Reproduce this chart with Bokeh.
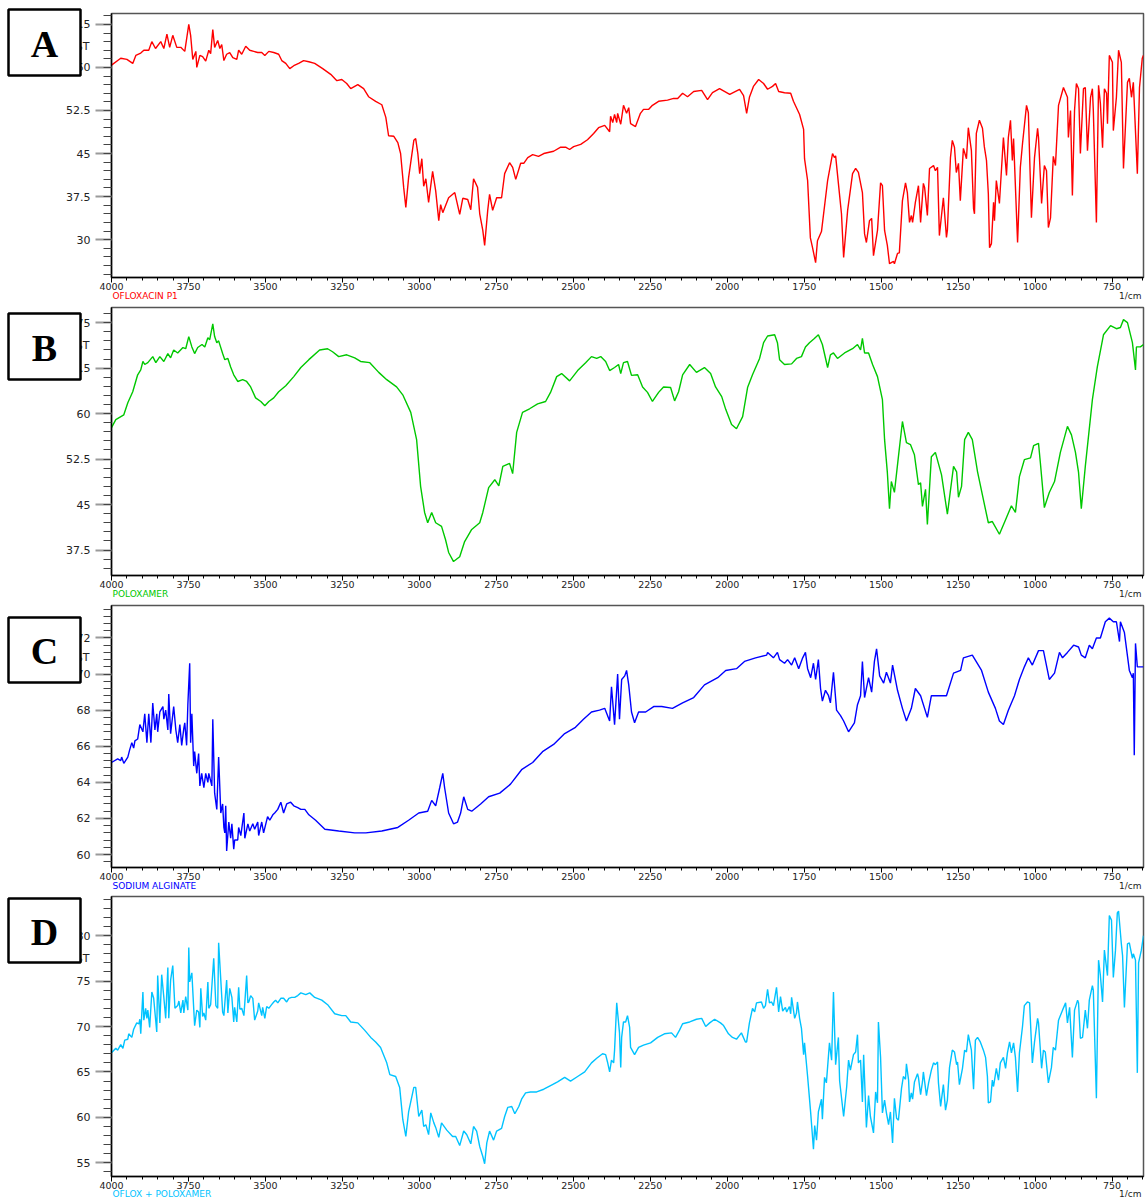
import numpy as np
from bokeh.plotting import figure
from bokeh.models import Range1d, FixedTicker, NumeralTickFormatter, GridBox
from bokeh.layouts import column
from bokeh.core.properties import value
from bokeh.embed import file_html
from bokeh.resources import INLINE

# ---------------- data (wavenumber 1/cm, %T) ----------------
WN_A = [4000,3970,3950,3931,3921,3905,3895,3879,3869,3857,3840,3830,3820,3811,3801,3788,3775,3762,3749,3743,
        3736,3726,3723,3713,3704,3694,3684,3678,3671,3665,3655,3648,3642,3635,3626,3616,3606,3593,3587,3577,
        3564,3551,3538,3525,3512,3502,3489,3473,3457,3447,3434,3421,3408,3392,3376,3359,3340,3314,3288,3268,
        3252,3236,3223,3200,3181,3165,3142,3122,3109,3100,3083,3070,3061,3051,3044,3035,3018,3012,3005,2999,
        2992,2986,2979,2970,2957,2947,2937,2931,2924,2905,2885,2869,2859,2843,2833,2824,2811,2804,2794,2788,
        2778,2772,2762,2749,2733,2723,2707,2697,2687,2671,2661,2648,2632,2613,2596,2564,2541,2525,2512,2499,
        2476,2454,2434,2418,2398,2382,2379,2372,2366,2359,2356,2346,2337,2327,2320,2314,2298,2282,2272,2255,
        2243,2223,2194,2174,2161,2145,2129,2109,2083,2064,2048,2025,1992,1960,1947,1937,1928,1915,1898,1882,
        1869,1853,1843,1833,1814,1794,1785,1765,1752,1749,1739,1730,1723,1713,1707,1694,1674,1658,1652,1648,
        1639,1629,1622,1609,1593,1583,1574,1561,1554,1548,1538,1531,1525,1512,1502,1496,1489,1480,1473,1460,
        1457,1447,1441,1431,1421,1415,1408,1402,1398,1389,1379,1372,1363,1359,1350,1343,1330,1324,1317,1311,
        1298,1288,1285,1275,1269,1262,1256,1249,1243,1233,1223,1217,1207,1200,1197,1191,1181,1171,1165,1158,
        1152,1148,1142,1135,1132,1126,1116,1103,1093,1087,1080,1074,1070,1057,1048,1041,1028,1022,1012,1002,
        992,989,979,970,963,957,950,941,934,924,908,895,892,885,879,872,866,859,853,843,
        837,830,820,814,811,801,794,788,781,775,768,765,759,749,746,736,729,720,713,700,
        694,687,681,668,661,652,648]
T_A = [60.4,61.6,61.4,60.7,62.1,62.5,63.0,63.0,64.5,63.3,64.5,63.3,65.8,63.5,65.6,63.5,63.5,62.8,67.5,65.6,
       61.4,62.8,60.0,62.1,61.9,61.1,63.0,62.4,66.6,63.5,64.7,63.3,64.0,61.2,62.3,62.6,61.7,61.4,63.0,62.3,
       63.7,63.0,62.8,62.6,62.6,62.1,62.8,62.6,62.3,61.2,60.7,59.8,60.3,60.7,61.2,61.0,60.7,59.8,58.8,57.7,
       57.9,57.2,56.3,57.0,56.3,54.9,54.1,53.5,51.3,48.1,48.0,46.9,45.0,39.1,35.6,40.8,47.3,47.6,45.0,41.5,
       44.1,39.3,40.6,36.5,41.9,38.5,33.3,36.1,34.7,37.3,38.2,34.4,37.2,37.0,35.2,40.6,39.1,34.5,31.6,29.0,
       35.1,37.9,35.1,37.3,37.3,41.5,43.4,42.6,40.5,43.3,43.3,44.3,44.8,44.5,45.0,45.4,46.1,46.1,45.7,46.2,
       46.6,47.4,48.5,49.5,49.9,48.8,51.5,50.4,51.8,50.4,52.0,50.1,53.4,52.0,53.0,50.2,49.7,52.0,52.7,52.7,
       53.4,54.1,54.3,54.6,54.6,55.5,54.9,55.8,56.0,54.4,55.6,56.3,55.3,56.2,55.1,52.0,54.8,56.7,57.9,57.2,
       56.2,56.7,57.2,55.8,55.6,55.5,54.1,51.8,49.2,44.1,40.3,30.3,28.6,26.0,29.8,31.4,40.3,45.0,44.3,44.6,
       39.8,34.5,26.9,35.1,41.5,42.4,41.7,38.2,31.0,29.5,33.3,33.7,27.2,31.6,39.9,39.4,31.6,29.0,25.8,26.2,
       25.8,27.6,27.7,36.8,39.9,38.2,33.0,34.2,33.0,36.5,39.4,33.0,39.8,39.1,34.2,42.4,42.9,42.0,42.6,30.7,
       37.3,30.4,31.6,44.3,47.3,46.1,41.7,43.3,36.8,45.9,44.1,49.5,45.5,35.4,34.5,48.5,50.8,49.4,46.2,43.8,
       38.0,28.6,29.3,36.5,33.3,40.3,36.3,47.8,41.2,47.8,50.8,43.8,47.6,29.5,42.6,46.7,53.4,52.1,33.8,44.3,
       49.4,47.8,36.3,42.9,42.0,32.1,33.8,44.5,42.9,53.4,56.5,54.8,47.8,52.5,37.7,52.5,57.2,56.3,45.0,56.3,
       56.5,45.5,54.8,56.3,52.5,33.0,56.9,53.7,46.0,56.3,55.5,50.2,62.1,60.9,49.0,54.8,63.0,60.9,42.4,57.4,
       58.1,54.8,57.4,41.5,56.5,61.6,62.1]

WN_B = [4000,3986,3960,3947,3931,3915,3905,3898,3892,3882,3866,3856,3843,3830,3817,3808,3798,3785,3768,3759,
        3749,3739,3730,3720,3706,3697,3687,3681,3671,3665,3658,3652,3639,3632,3622,3613,3603,3590,3574,3561,
        3548,3532,3515,3502,3489,3473,3457,3434,3408,3385,3359,3324,3298,3282,3262,3236,3210,3191,3161,3132,
        3106,3074,3054,3028,3009,2996,2983,2973,2960,2947,2928,2915,2905,2889,2869,2853,2830,2804,2794,2775,
        2755,2742,2729,2707,2697,2684,2665,2642,2616,2590,2574,2554,2538,2512,2486,2460,2441,2424,2411,2395,
        2382,2366,2353,2346,2337,2324,2311,2291,2275,2259,2243,2223,2207,2184,2171,2158,2145,2122,2100,2074,
        2054,2038,2018,2005,1986,1970,1950,1934,1918,1895,1882,1869,1846,1837,1830,1814,1791,1775,1759,1746,
        1733,1717,1704,1691,1674,1665,1655,1642,1619,1593,1577,1567,1561,1554,1541,1528,1512,1496,1489,1480,
        1473,1467,1457,1444,1431,1418,1405,1392,1379,1372,1366,1356,1350,1337,1324,1304,1285,1265,1255,1249,
        1239,1229,1217,1204,1187,1168,1152,1139,1116,1096,1077,1064,1051,1035,1015,1005,989,983,970,954,
        937,918,895,882,869,859,850,837,814,798,778,755,736,723,713,700,684,674,671,658,648]
T_B = [57.7,59.0,59.8,61.8,63.6,66.4,67.2,68.6,68.1,68.4,69.4,68.4,69.4,68.6,69.9,69.2,70.5,70.0,70.9,70.7,
       72.7,71.0,69.9,70.9,71.4,71.0,72.5,72.2,74.8,72.7,71.7,72.0,69.9,68.9,69.1,67.7,66.4,65.3,65.6,65.3,
       64.4,62.6,62.0,61.3,62.0,62.6,63.6,64.6,66.1,67.6,68.9,70.5,70.7,70.2,69.4,69.7,69.2,68.6,68.4,66.8,
       65.6,64.4,63.1,60.2,55.7,48.0,43.7,42.0,43.7,42.0,41.4,39.2,37.1,35.6,36.4,38.9,40.9,42.0,43.7,47.8,
       49.1,48.1,51.3,51.8,50.1,56.9,60.2,60.8,61.6,62.0,63.5,66.1,66.6,65.4,67.1,68.4,69.4,69.1,69.4,68.6,
       67.1,67.6,68.1,66.6,68.4,68.6,66.3,66.4,64.4,63.5,62.0,63.5,64.4,64.3,62.1,63.6,66.4,68.1,66.8,67.6,
       66.6,64.4,62.8,60.7,58.2,57.5,59.5,64.3,66.4,69.1,71.7,72.8,73.0,71.7,68.9,68.1,68.2,69.1,69.4,71.0,
       71.7,72.4,73.0,71.4,67.6,69.7,70.0,69.1,70.0,70.7,71.4,70.5,72.4,70.0,70.0,68.1,66.1,62.3,55.7,50.3,
       44.3,48.8,47.0,52.9,58.7,55.2,54.9,53.2,48.3,48.6,44.7,47.5,41.7,52.9,53.6,49.9,43.4,51.3,50.4,46.2,
       48.0,55.7,56.9,55.7,50.4,45.8,42.0,42.2,40.1,42.5,44.8,43.7,49.6,52.4,52.7,54.7,55.1,51.9,44.5,47.0,
       48.8,53.6,57.9,56.5,53.6,50.3,44.3,51.3,62.3,67.7,73.0,74.5,74.0,74.2,75.5,75.0,71.7,67.2,71.0,71.0,71.4]

WN_C = [4000,3980,3970,3967,3960,3947,3941,3934,3928,3924,3915,3908,3898,3892,3885,3879,3872,3866,3859,3853,
        3850,3843,3833,3830,3824,3817,3814,3808,3798,3791,3785,3778,3772,3765,3762,3756,3752,3746,3743,3739,
        3733,3730,3723,3717,3713,3707,3700,3694,3687,3684,3674,3671,3665,3658,3652,3645,3639,3635,3632,3629,
        3626,3619,3613,3609,3603,3600,3590,3587,3580,3570,3567,3557,3551,3541,3535,3525,3522,3512,3506,3493,
        3486,3476,3470,3460,3450,3441,3431,3418,3408,3395,3385,3372,3359,3337,3307,3262,3210,3174,3122,3070,
        3035,3002,2973,2960,2947,2934,2924,2918,2905,2889,2876,2866,2856,2843,2830,2801,2775,2739,2704,2668,
        2632,2600,2564,2528,2493,2467,2441,2415,2398,2382,2376,2366,2356,2350,2343,2333,2327,2320,2311,2301,
        2288,2265,2239,2213,2178,2145,2109,2074,2031,2005,1970,1944,1908,1872,1869,1850,1837,1830,1814,1804,
        1791,1781,1768,1755,1746,1739,1729,1720,1713,1704,1697,1691,1681,1671,1665,1655,1645,1632,1622,1606,
        1587,1577,1567,1561,1554,1541,1531,1522,1515,1505,1492,1483,1470,1463,1447,1431,1418,1402,1389,1372,
        1350,1337,1304,1288,1265,1242,1233,1204,1174,1152,1129,1116,1103,1087,1067,1051,1035,1022,1009,989,
        973,954,937,921,911,895,875,859,850,837,824,814,801,788,772,759,746,736,726,723,
        710,694,684,681,678,674,668,658,648]
T_C = [65.1,65.3,65.2,65.4,65.05,65.4,65.8,66.2,65.9,66.3,66.4,67.2,66.8,67.8,66.2,67.8,66.2,68.4,66.9,67.8,
       66.8,67.9,68.2,67.5,68.0,66.9,68.9,66.7,68.2,66.9,66.2,67.2,66.05,67.0,67.3,66.05,68.3,70.6,66.2,67.8,
       64.9,65.7,64.5,65.6,63.8,64.5,63.7,64.5,64.0,64.5,63.8,67.5,63.4,62.5,65.4,62.3,62.8,61.5,61.2,62.7,
       60.2,61.8,60.9,61.7,60.3,60.8,60.8,61.5,61.05,62.3,60.9,61.7,61.3,61.7,61.4,61.8,61.05,61.8,61.2,62.1,
       61.9,62.2,62.3,62.5,62.9,62.3,62.8,62.9,62.7,62.6,62.5,62.5,62.2,61.9,61.4,61.3,61.2,61.2,61.3,61.5,
       61.9,62.3,62.4,63.0,62.7,63.7,64.5,63.7,62.3,61.7,61.8,62.3,63.2,62.5,62.4,62.8,63.2,63.4,63.9,64.7,
       65.1,65.7,66.1,66.7,67.05,67.5,67.9,68.0,68.1,67.4,69.3,67.2,70.0,67.5,69.7,69.9,70.2,69.4,67.9,67.3,
       67.9,67.9,68.2,68.2,68.1,68.4,68.7,69.4,69.8,70.2,70.3,70.7,70.9,71.05,71.2,70.9,71.2,70.8,70.6,70.8,
       70.5,70.9,70.3,70.9,71.2,70.3,69.8,70.6,69.7,70.8,69.2,68.5,69.1,68.8,68.4,70.1,68.0,67.7,67.4,66.8,
       67.3,68.3,68.8,70.7,68.7,69.8,69.0,70.7,71.4,69.9,69.5,70.1,69.5,70.5,69.1,68.1,67.4,68.1,69.2,68.8,
       67.6,68.8,68.8,68.8,70.05,70.2,70.9,71.05,70.2,69.0,68.1,67.4,67.2,68.0,68.8,69.7,70.4,70.9,70.5,71.3,
       71.3,69.7,70.05,71.2,70.9,71.2,71.6,71.5,71.05,70.9,71.6,71.4,72.0,72.0,72.9,73.1,72.9,72.9,71.8,72.9,
       72.3,70.2,69.8,70.05,65.5,71.7,70.4,70.4,70.4]

WN_D = [4000,3986,3980,3970,3963,3957,3947,3944,3934,3928,3918,3911,3908,3905,3898,3895,3889,3885,3882,3876,
        3869,3863,3853,3850,3843,3837,3830,3824,3817,3814,3808,3801,3794,3785,3781,3775,3768,3765,3759,3752,
        3749,3746,3739,3733,3730,3723,3717,3713,3710,3704,3700,3694,3687,3684,3678,3668,3661,3655,3652,3645,
        3639,3635,3626,3622,3616,3609,3603,3600,3593,3587,3583,3577,3570,3567,3561,3557,3554,3548,3541,3535,
        3525,3522,3512,3509,3502,3496,3489,3480,3473,3467,3460,3450,3441,3431,3424,3415,3405,3395,3385,3369,
        3356,3340,3317,3298,3275,3252,3239,3223,3200,3178,3158,3142,3126,3106,3096,3077,3064,3054,3044,3035,
        3018,3012,3002,2992,2986,2979,2970,2963,2953,2947,2937,2928,2911,2892,2882,2869,2856,2846,2833,2824,
        2814,2804,2794,2788,2781,2772,2759,2749,2733,2723,2713,2700,2690,2677,2668,2655,2639,2619,2596,2574,
        2551,2528,2509,2486,2463,2441,2424,2405,2395,2389,2382,2376,2369,2366,2359,2350,2346,2343,2337,2330,
        2324,2317,2314,2301,2288,2272,2249,2226,2204,2181,2168,2155,2145,2122,2100,2083,2070,2057,2041,2022,
        2012,1996,1983,1970,1954,1941,1937,1928,1918,1911,1905,1889,1882,1876,1869,1863,1856,1850,1840,1833,
        1827,1820,1811,1807,1798,1794,1791,1781,1775,1772,1765,1759,1752,1749,1739,1729,1720,1716,1710,1704,
        1694,1691,1684,1678,1668,1661,1655,1648,1639,1635,1622,1612,1606,1600,1590,1583,1577,1574,1567,1561,
        1557,1548,1541,1535,1525,1518,1512,1509,1502,1496,1489,1483,1476,1470,1463,1457,1450,1444,1434,1428,
        1421,1418,1411,1408,1402,1398,1392,1382,1379,1372,1366,1363,1353,1346,1337,1330,1324,1317,1314,1307,
        1298,1291,1285,1278,1269,1262,1255,1252,1246,1236,1229,1223,1217,1207,1200,1194,1187,1178,1168,1161,
        1155,1152,1145,1139,1135,1126,1119,1113,1103,1096,1090,1083,1077,1070,1064,1057,1051,1041,1035,1025,
        1018,1009,1002,992,989,979,973,967,957,947,941,934,924,911,901,895,888,879,872,862,
        859,853,846,837,830,824,814,811,801,794,788,781,775,765,759,752,746,739,733,729,
        720,716,710,700,694,684,681,674,668,664,655,648]
T_D = [67.1,67.6,67.4,68.0,67.6,68.5,68.6,69.2,68.8,69.7,70.4,70.3,70.8,69.2,73.8,70.7,72.0,70.9,71.8,69.9,
       73.8,73.1,69.4,75.6,70.4,75.7,73.2,70.9,76.5,70.9,75.1,76.7,72.0,72.3,72.8,71.5,72.9,71.5,73.3,71.8,
       78.7,74.9,75.9,72.0,70.1,71.8,71.6,69.9,74.2,71.1,71.5,70.7,74.9,72.0,72.4,77.5,72.3,72.0,79.2,75.1,
       71.6,71.2,75.1,71.5,74.2,73.2,70.5,72.1,70.5,74.3,71.9,72.0,71.2,72.6,75.6,72.6,72.7,73.4,73.1,70.7,
       71.7,72.6,71.2,72.1,70.9,72.2,72.0,72.4,72.7,72.9,72.6,73.1,73.1,72.7,73.1,73.2,73.2,73.4,73.7,73.5,
       73.7,73.2,72.9,72.4,71.4,71.2,71.2,70.5,70.4,69.6,68.8,68.3,67.7,66.0,64.7,64.5,63.3,59.8,57.9,60.6,
       63.3,63.3,60.1,60.8,59.0,59.2,58.1,60.5,59.4,58.9,57.8,59.4,58.6,57.9,57.9,56.9,58.5,58.1,57.1,59.0,
       58.5,56.8,55.7,54.9,57.2,58.5,57.5,58.5,58.8,60.1,61.1,61.2,60.4,61.2,62.0,62.7,62.8,62.8,63.1,63.5,
       63.9,64.4,64.0,64.5,65.0,66.0,66.5,67.0,66.9,66.1,65.0,66.3,66.0,67.4,72.6,69.3,65.5,68.8,70.5,70.5,
       71.2,69.9,67.7,66.9,67.7,67.96,68.2,68.8,69.2,69.3,68.8,69.6,70.3,70.5,70.8,70.9,70.0,70.4,70.8,70.4,
       70.1,69.2,68.8,68.6,69.3,68.3,68.3,70.4,72.0,71.6,72.6,72.7,72.0,72.3,74.1,72.6,72.7,72.3,74.3,71.6,
       73.3,71.7,72.1,71.6,72.2,71.4,73.2,70.9,71.5,72.7,70.9,69.8,66.9,68.2,64.5,60.5,56.5,59.1,57.5,60.6,
       62.0,59.8,64.4,63.8,68.2,66.3,73.8,65.8,68.8,64.0,60.1,63.4,66.3,65.2,66.9,67.2,69.1,66.0,66.3,61.7,
       66.9,58.9,62.4,60.1,58.3,62.8,61.6,70.5,66.6,60.5,61.9,60.5,59.2,60.6,57.2,62.1,59.9,59.7,63.2,64.5,
       64.2,65.9,64.1,61.7,62.7,62.0,63.9,64.8,64.4,62.5,63.9,65.0,62.4,63.8,65.2,66.0,65.8,66.1,63.8,61.2,
       63.6,60.8,61.9,65.5,67.4,67.2,65.8,66.1,63.6,65.4,67.4,67.2,69.1,67.4,63.1,68.5,68.8,68.3,67.4,66.6,
       64.5,61.6,61.7,64.1,63.4,65.4,64.1,66.0,66.6,65.4,67.1,68.3,67.1,68.2,66.6,62.8,67.1,70.0,72.3,72.7,
       72.6,66.0,68.3,70.9,70.4,65.4,67.4,67.2,63.8,65.5,67.7,67.4,70.7,71.8,72.6,70.4,72.1,66.6,71.8,72.9,
       72.6,68.7,68.8,71.8,69.8,72.9,74.5,74.0,62.1,77.3,75.6,72.7,78.4,75.6,82.2,81.7,75.4,78.4,82.5,82.7,
       79.1,77.8,72.1,79.1,79.2,77.5,78.0,77.3,64.9,77.0,78.4,80.0]

SERIES_NAMES = ["OFLOXACIN P1", "POLOXAMER", "SODIUM ALGINATE", "OFLOX + POLOXAMER"]
PANEL_LETTERS = ["A", "B", "C", "D"]
X_MAJOR = [4000, 3750, 3500, 3250, 3000, 2750, 2500, 2250, 2000, 1750, 1500, 1250, 1000, 750]
Y_MAJOR_A = [30, 37.5, 45, 52.5, 60, 67.5]
Y_MAJOR_B = [37.5, 45, 52.5, 60, 67.5, 75]
Y_MAJOR_C = [60, 62, 64, 66, 68, 70, 72]
Y_MAJOR_D = [55, 60, 65, 70, 75, 80]

# ---------------- styling / layout ----------------
X_LEFT, X_RIGHT = 4000, 648
W = 1146
BL, BR = 111, 3
TICK_FONT = "DejaVu Sans"

panels = [
    # wn, t, color, y-range, majors, minor step, border top, frame height, border bottom
    (WN_A, T_A, "#ff0000", (23.4, 69.4), Y_MAJOR_A, 1.5, 13, 264, 25),
    (WN_B, T_B, "#00c800", (33.3, 77.5), Y_MAJOR_B, 1.5, 5, 268, 25),
    (WN_C, T_C, "#0000ff", (59.28, 73.8), Y_MAJOR_C, 0.4, 5, 262, 24),
    (WN_D, T_D, "#00c3ff", (53.5, 84.3), Y_MAJOR_D, 1.0, 5, 280, 21),
]

figs = []
frame_bottoms = []
canvas_top = 0
for i, (wn, t, color, yr, majors, mstep, top, fh, bottom) in enumerate(panels):
    p = figure(width=W, height=top + fh + bottom,
               x_range=Range1d(X_LEFT, X_RIGHT), y_range=Range1d(*yr),
               output_backend="svg", toolbar_location=None,
               min_border_left=BL, min_border_right=BR,
               min_border_top=top, min_border_bottom=bottom)
    p.xgrid.visible = False
    p.ygrid.visible = False
    p.background_fill_color = "white"
    p.border_fill_color = "white"
    p.outline_line_color = "#555555"
    p.outline_line_width = 1.5

    p.line(wn, t, line_color=color, line_width=1.4)

    # x axis
    xa = p.xaxis[0]
    x_minor = list(np.arange(4000, 640, -50))
    xa.ticker = FixedTicker(ticks=X_MAJOR, minor_ticks=x_minor)
    xa.axis_line_color = "black"
    xa.axis_line_width = 1.5
    xa.major_tick_out = 5
    xa.major_tick_in = 0
    xa.minor_tick_out = 3
    xa.minor_tick_in = 0
    xa.major_tick_line_color = "black"
    xa.minor_tick_line_color = "black"
    xa.major_label_standoff = 0
    xa.major_label_text_font = TICK_FONT
    xa.major_label_text_font_size = "9.5px"
    xa.major_label_text_color = "#222222"

    # y axis
    ya = p.yaxis[0]
    lo = majors[0] - mstep * int((majors[0] - yr[0]) / mstep)
    y_minor = list(np.round(np.arange(lo, yr[1], mstep), 3))
    ya.ticker = FixedTicker(ticks=majors, minor_ticks=y_minor)
    ya.formatter = NumeralTickFormatter(format="0.[0]")
    ya.axis_line_color = "black"
    ya.axis_line_width = 1.5
    ya.major_tick_out = 16
    ya.major_tick_in = 0
    ya.minor_tick_out = 8
    ya.minor_tick_in = 0
    ya.major_tick_line_color = "#9a9a9a"
    ya.major_tick_line_width = 2
    ya.minor_tick_line_color = "#444444"
    ya.major_label_standoff = 5
    ya.major_label_text_font = TICK_FONT
    ya.major_label_text_font_size = "11px"
    ya.major_label_text_color = "#222222"

    frame_bottoms.append(canvas_top + top + fh)
    canvas_top += top + fh + bottom
    figs.append(p)

TOTAL_H = canvas_top

# ---------------- overlay with panel letters, %T titles, series names, units ----------------
BOX_LEFT, BOX_RIGHT = 8, 80
BOX_TOP = [9, 313, 617, 898]
BOX_BOTTOM = [75, 379, 682, 962]
PCT_Y = [46, 345, 657, 958]
NAME_COLORS = ["#ff0000", "#00c800", "#0000ff", "#00c3ff"]
name_y = [fb + (18 if k < 3 else 17) for k, fb in enumerate(frame_bottoms)]

ov = figure(width=W, height=TOTAL_H, x_range=Range1d(0, W), y_range=Range1d(TOTAL_H, 0),
            output_backend="svg", toolbar_location=None,
            x_axis_location=None, y_axis_location=None,
            min_border_left=0, min_border_right=0, min_border_top=0, min_border_bottom=0)
ov.xgrid.visible = False
ov.ygrid.visible = False
ov.outline_line_color = None
ov.background_fill_alpha = 0
ov.border_fill_alpha = 0

ov.text(x=[89] * 4, y=PCT_Y, text=["%T"] * 4, text_font=value(TICK_FONT),
        text_font_size="11px", text_color="#222222", text_align="right", text_baseline="middle")
ov.quad(left=[BOX_LEFT] * 4, right=[BOX_RIGHT] * 4, top=BOX_TOP, bottom=BOX_BOTTOM,
        fill_color="white", line_color="black", line_width=2.5)
ov.text(x=[(BOX_LEFT + BOX_RIGHT) / 2] * 4,
        y=[(a + b) / 2 + 1 for a, b in zip(BOX_TOP, BOX_BOTTOM)],
        text=PANEL_LETTERS, text_font=value("Liberation Serif"), text_font_style="bold",
        text_font_size="38px", text_color="black", text_align="center", text_baseline="middle")
ov.text(x=[BL + 1] * 4, y=name_y, text=SERIES_NAMES, text_color=NAME_COLORS,
        text_font=value(TICK_FONT), text_font_size="9px", text_align="left", text_baseline="middle")
ov.text(x=[W - BR - 2] * 4, y=name_y, text=["1/cm"] * 4, text_color="#222222",
        text_font=value(TICK_FONT), text_font_size="9px", text_align="right", text_baseline="middle")

layout = GridBox(children=[(column(*figs, spacing=0), 0, 0), (ov, 0, 0)], spacing=0)
open("out.html", "w").write(file_html(layout, INLINE))
